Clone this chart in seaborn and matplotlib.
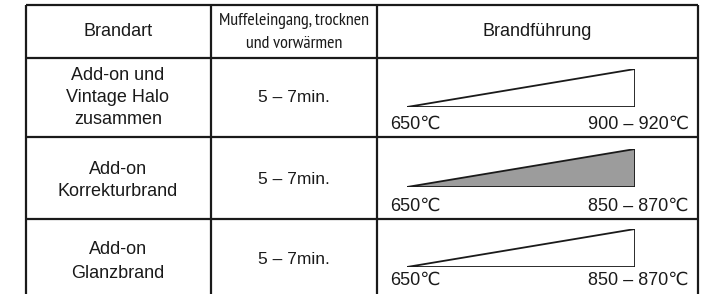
import matplotlib
matplotlib.use("Agg")
import matplotlib.pyplot as plt
import seaborn as sns
import pandas as pd
from matplotlib import font_manager

# --- data ---------------------------------------------------------------
headers = ["Brandart", "Muffeleingang, trocknen\nund vorwärmen", "Brandführung"]
brand_names = ["Add-on und\nVintage Halo\nzusammen", "Add-on\nKorrekturbrand", "Add-on\nGlanzbrand"]
times = ["5 – 7min.", "5 – 7min.", "5 – 7min."]
start_temps = [650, 650, 650]
end_low = [900, 850, 850]
end_high = [920, 870, 870]
filled = [False, True, False]

sns.set_style("white")
plt.rcParams['font.family'] = ['Liberation Sans', 'DejaVu Sans']

# condensed face for the middle header, if there is one
narrow_files = [f.fname for f in font_manager.fontManager.ttflist
                if 'narrow' in f.fname.lower() and 'regular' in f.fname.lower()]
if narrow_files:
    mid_font = dict(fontproperties=font_manager.FontProperties(fname=narrow_files[0], size=13))
else:
    mid_font = dict(fontsize=10.6)

W, H = 706, 294
fig = plt.figure(figsize=(W / 100, H / 100), dpi=100)
ax = fig.add_axes([0, 0, 1, 1])
ax.set_xlim(0, W)
ax.set_ylim(H, 0)
ax.axis('off')

ink = '#1a1a1a'
col_x = [26, 211, 377, 698]
row_y = [5, 58, 137, 219, 300]

# table grid
for x in col_x:
    ax.plot([x, x], [row_y[0], H + 5], color=ink, lw=1.6, solid_capstyle='butt')
for y in row_y[:-1]:
    ax.plot([col_x[0], col_x[-1]], [y, y], color=ink, lw=1.6, solid_capstyle='butt')

# header
ax.text(118, 32, headers[0], ha='center', va='center', fontsize=13, color=ink)
h1, h2 = headers[1].split('\n')
ax.text(294, 21, h1, ha='center', va='center', color=ink, **mid_font)
ax.text(294, 44, h2, ha='center', va='center', color=ink, **mid_font)
ax.text(537, 32, headers[2], ha='center', va='center', fontsize=13, color=ink)

# rows
name_y = [[76, 98, 120], [169, 192], [250, 273]]
time_y = [98, 179, 260]
tri_box = [(69, 107), (149, 187), (229, 267)]
label_y = [124, 206, 280]
tri_x0, tri_x1 = 407, 635

for i in range(len(brand_names)):
    for line, y in zip(brand_names[i].split('\n'), name_y[i]):
        ax.text(118, y, line, ha='center', va='center', fontsize=13, color=ink)
    ax.text(294, time_y[i], times[i], ha='center', va='center', fontsize=12.5, color=ink)

    # firing ramp: temperature rising from start to end
    top, bot = tri_box[i]
    tax = fig.add_axes([tri_x0 / W, 1 - bot / H, (tri_x1 - tri_x0) / W, (bot - top) / H])
    end = (end_low[i] + end_high[i]) / 2
    ramp = pd.DataFrame({'t': [0, 1, 1, 0], 'temp': [start_temps[i], end, start_temps[i], start_temps[i]]})
    if filled[i]:
        tax.fill(ramp['t'], ramp['temp'], color='#9c9c9c', lw=0)
    sns.lineplot(data=ramp, x='t', y='temp', sort=False, estimator=None, ax=tax,
                 color=ink, lw=1.3)
    tax.set_xlim(0, 1)
    tax.set_ylim(start_temps[i], end)
    tax.axis('off')

    ax.text(390, label_y[i], f"{start_temps[i]}℃", ha='left', va='center', fontsize=13, color=ink)
    ax.text(689, label_y[i], f"{end_low[i]} – {end_high[i]}℃", ha='right', va='center', fontsize=13, color=ink)

fig.savefig('out.png', dpi=100, facecolor='white')
